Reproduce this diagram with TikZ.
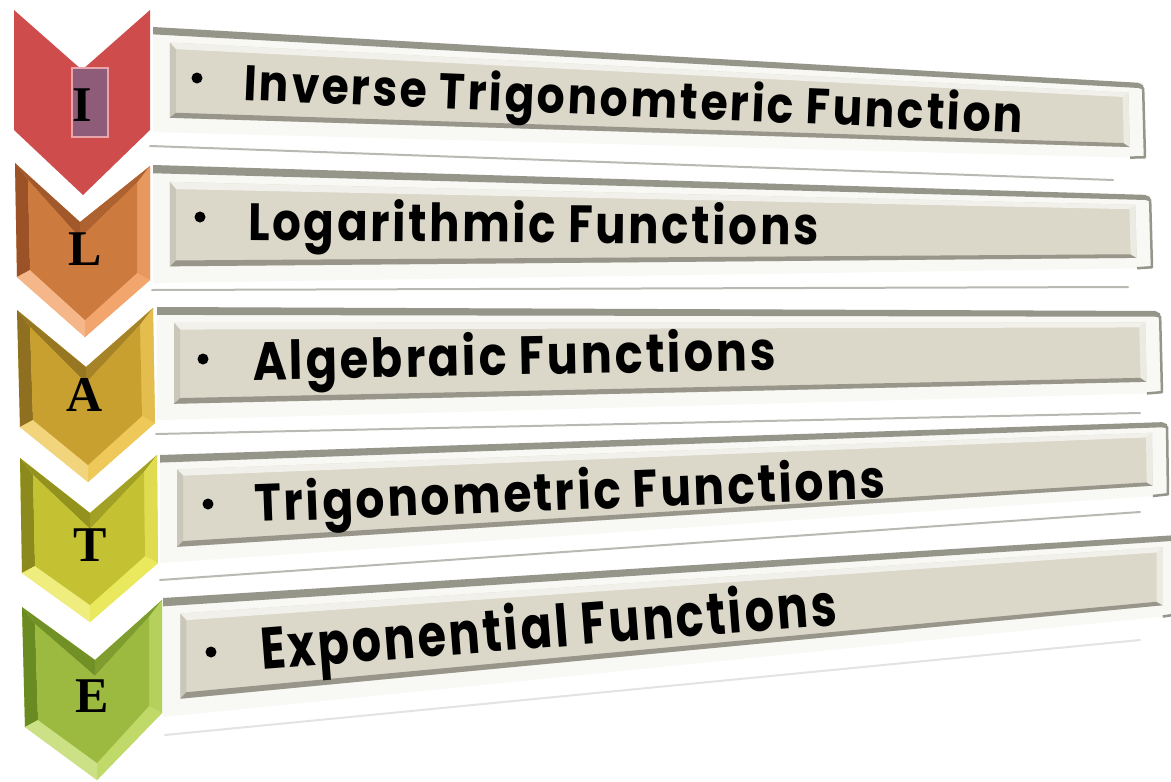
\documentclass[tikz,border=0pt]{standalone}
\usepackage{graphicx}
\usepackage{fontspec}
\setmainfont{Poppins}
\newfontfamily\barfont{Poppins}[LetterSpace=6]
\newfontfamily\letterfont{Liberation Serif}
\usetikzlibrary{calc}
\definecolor{facec}{HTML}{DBD7C9}
\definecolor{rimc}{HTML}{F8F8F5}
\definecolor{topc}{HTML}{96958A}
\definecolor{bevl}{HTML}{F1F0EA}
\definecolor{bevm}{HTML}{CAC7BA}
\definecolor{bevd}{HTML}{98968A}
\definecolor{bevr}{HTML}{ECEBE3}
\definecolor{reflc}{HTML}{B9B9B4}
\definecolor{redc}{HTML}{CF4C4C}
\definecolor{Lmid}{HTML}{CC7A3E}\definecolor{Llt}{HTML}{F2A56C}\definecolor{Ldk}{HTML}{9A5226}
\definecolor{Amid}{HTML}{C8A030}\definecolor{Alt}{HTML}{EEC95A}\definecolor{Adk}{HTML}{8F7020}
\definecolor{Tmid}{HTML}{C4C232}\definecolor{Tlt}{HTML}{EAE85C}\definecolor{Tdk}{HTML}{8C8A1C}
\definecolor{Emid}{HTML}{9CBA40}\definecolor{Elt}{HTML}{BFDA68}\definecolor{Edk}{HTML}{6A8A22}
\tikzset{
  txt/.style={anchor=base west, inner sep=0pt, text=black},
  lettr/.style={font=\letterfont\bfseries\fontsize{50}{50}\selectfont, inner sep=0pt, text=black},
  bul/.style={fill=black, circle, minimum size=11pt, inner sep=0pt},
  refl/.style={draw=reflc, line width=2pt, line cap=round},
}
\newcommand\bp[2]{($($(tl)!#1!(tr)$)!#2!($(bl)!#1!(br)$)$)}
\newcommand\drawpanel[4]{%
  \coordinate (tl) at #1; \coordinate (tr) at #2; \coordinate (br) at #3; \coordinate (bl) at #4;
  \fill[rimc] (tl)--(tr)--(br)--(bl)--cycle;
  \fill[topc] \bp{0}{0} -- \bp{0.995}{0} -- \bp{1}{0.03} -- \bp{1}{0.07} -- \bp{0}{0.07} -- cycle;
  \fill[facec] \bp{0.017}{0.14} -- \bp{0.985}{0.14} -- \bp{0.985}{0.86} -- \bp{0.017}{0.86} -- cycle;
  \fill[bevl] \bp{0.017}{0.14} -- \bp{0.985}{0.14} -- \bp{0.979}{0.2} -- \bp{0.023}{0.2} -- cycle;
  \fill[bevm] \bp{0.017}{0.14} -- \bp{0.023}{0.2} -- \bp{0.023}{0.81} -- \bp{0.017}{0.86} -- cycle;
  \fill[bevd] \bp{0.017}{0.86} -- \bp{0.985}{0.86} -- \bp{0.979}{0.81} -- \bp{0.023}{0.81} -- cycle;
  \fill[bevr] \bp{0.985}{0.14} -- \bp{0.985}{0.86} -- \bp{0.979}{0.81} -- \bp{0.979}{0.2} -- cycle;
  \draw[topc, line width=2.5pt, line join=round] \bp{0.99}{0.03} -- \bp{1}{0.07} -- \bp{1}{0.99} -- \bp{0.985}{1};
}
% chevron: #1 TL, #2 notch, #3 TR, #4 R, #5 B, #6 L, #7 light, #8 mid, #9 dark
\newcommand\chev[9]{%
  \coordinate (ctl) at #1; \coordinate (cn) at #2; \coordinate (ctr) at #3;
  \coordinate (cr) at #4; \coordinate (cb) at #5; \coordinate (cl) at #6;
  \coordinate (itl) at ($(ctl)+(13,17)$); \coordinate (in) at ($(cn)+(0,16)$);
  \coordinate (itr) at ($(ctr)+(-13,17)$); \coordinate (ir) at ($(cr)+(-13,-7)$);
  \coordinate (ib) at ($(cb)+(0,-17)$); \coordinate (il) at ($(cl)+(13,-7)$);
  \fill[#7] (ctl)--(cn)--(ctr)--(cr)--(cb)--(cl)--cycle;
  \fill[#9] (cl)--(ctl)--(itl)--(il)--cycle;
  \fill[#9!85!#8] (ctl)--(cn)--(in)--(itl)--cycle;
  \fill[#9!60!#8] (cn)--(ctr)--(itr)--(in)--cycle;
  \fill[#7!70!#8] (ctr)--(cr)--(ir)--(itr)--cycle;
  \fill[#7] (cr)--(cb)--(ib)--(ir)--cycle;
  \fill[#7!80!white] (cb)--(cl)--(il)--(ib)--cycle;
  \fill[#8] (itl)--(in)--(itr)--(ir)--(ib)--(il)--cycle;
}
\begin{document}
\begin{tikzpicture}[x=1pt,y=-1pt]
\useasboundingbox[fill=white] (0,0) rectangle (1171,782);

% reflection lines under panels
\draw[refl] (150,146) -- (1113,180);
\draw[refl] (152,290) -- (1128,287);
\draw[refl] (156,434) -- (1140,413);
\draw[refl] (160,580) -- (1140,512);
\draw[refl, draw=reflc!40] (165,735) -- (1140,640);

% panels
\drawpanel{(153,27)}{(1143,83)}{(1145,158)}{(153,132)}
\drawpanel{(153,165)}{(1150,195)}{(1152,268)}{(153,283)}
\drawpanel{(157,307)}{(1160,311)}{(1162,393)}{(157,420)}
\drawpanel{(160,455)}{(1167,422)}{(1168,495)}{(160,563)}
\drawpanel{(163,598)}{(1178,535)}{(1178,615)}{(163,717)}

% chevrons
\fill[redc] (14,10)--(82,70)--(150,10)--(150,130)--(83,195)--(14,130)--cycle;
\draw[draw={rgb,255:red,234;green,164;blue,172}, fill={rgb,255:red,142;green,92;blue,120}, line width=2pt] (72,68) rectangle (108,137);
\chev{(15,163)}{(80,222)}{(150,166)}{(150,280)}{(85,337)}{(17,277)}{Llt}{Lmid}{Ldk}
\chev{(17,310)}{(86,367)}{(153,308)}{(155,423)}{(88,482)}{(20,427)}{Alt}{Amid}{Adk}
\chev{(20,458)}{(90,513)}{(157,455)}{(158,563)}{(90,622)}{(22,573)}{Tlt}{Tmid}{Tdk}
\chev{(22,607)}{(95,660)}{(162,600)}{(162,713)}{(97,780)}{(25,727)}{Elt}{Emid}{Edk}

% chevron letters
\node[lettr] (cI) at (82,105) {I};
\node[lettr] (cL) at (85,249) {L};
\node[lettr] (cA) at (85,395) {A};
\node[lettr] (cT) at (90,545) {T};
\node[lettr] (cE) at (92,696) {E};

% bullets
\node[bul] (b1) at (197,78) {};
\node[bul] (b2) at (200,217) {};
\node[bul] (b3) at (203,359) {};
\node[bul] (b4) at (208,504) {};
\node[bul] (b5) at (211,652) {};

% texts
\node[txt, rotate=-2.42] (t1) at (243,100) {\resizebox{780pt}{40pt}{\barfont\bfseries Inverse Trigonomteric Function}};
\node[txt, rotate=-0.5] (t2) at (248,240) {\resizebox{570pt}{42pt}{\barfont\bfseries Logarithmic Functions}};
\node[txt, rotate=1.1] (t3) at (253,380) {\resizebox{523pt}{43pt}{\barfont\bfseries Algebraic Functions}};
\node[txt, rotate=2.18] (t4) at (255,522) {\resizebox{631pt}{42pt}{\barfont\bfseries Trigonometric Functions}};
\node[txt, rotate=4.47] (t5) at (262,670) {\resizebox{577pt}{47pt}{\barfont\bfseries Exponential Functions}};
\end{tikzpicture}
\end{document}
